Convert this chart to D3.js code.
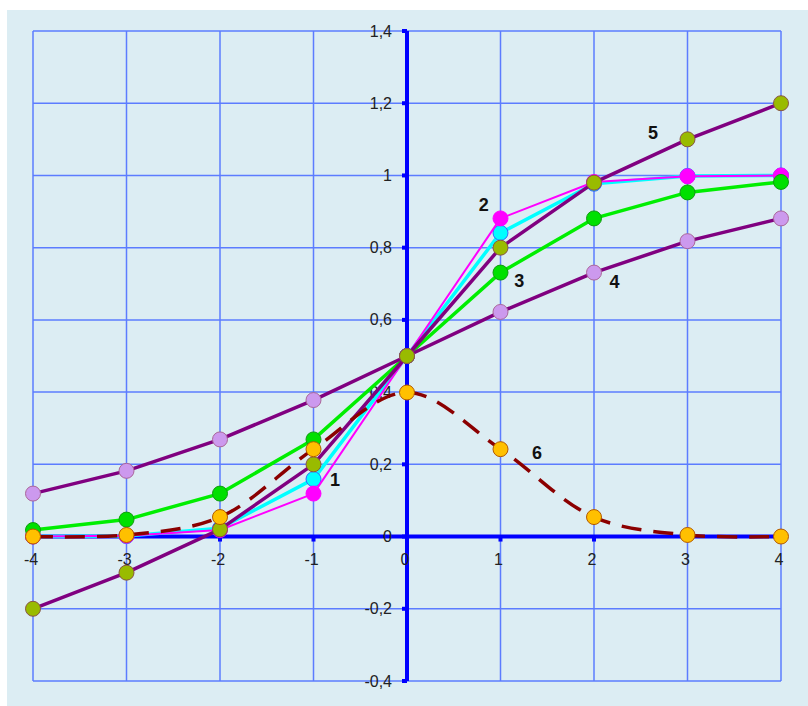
<!DOCTYPE html>
<html><head><meta charset="utf-8">
<script src="https://cdn.jsdelivr.net/npm/d3@7"></script>
<style>html,body{margin:0;padding:0;background:#fff;}</style>
</head><body><svg id="c" width="808" height="706"></svg>
<script>
const xs = [-4,-3,-2,-1,0,1,2,3,4];
const s1 = [0.00003,0.0013,0.023,0.159,0.5,0.841,0.977,0.9987,1.0];
const s2 = [0.0003,0.0025,0.018,0.119,0.5,0.881,0.982,0.9975,0.9997];
const s3 = [0.018,0.047,0.119,0.269,0.5,0.731,0.881,0.953,0.982];
const s4 = [0.119,0.182,0.269,0.378,0.5,0.622,0.731,0.818,0.881];
const s5 = [-0.2,-0.1,0.02,0.2,0.5,0.8,0.98,1.1,1.2];
const s6 = [0.0001,0.0044,0.054,0.242,0.399,0.242,0.054,0.0044,0.0001];
const xTicks = [-4,-3,-2,-1,0,1,2,3,4];
const yTicks = [-0.4,-0.2,0,0.2,0.4,0.6,0.8,1,1.2,1.4];
const labels = ["1","2","3","4","5","6"];
const labelAt = [[-0.77,0.157],[0.82,0.92],[1.2,0.708],[2.22,0.705],[2.63,1.118],[1.39,0.232]];

const svg = d3.select("#c");
svg.append("rect").attr("x",7).attr("y",10).attr("width",801).attr("height",696).attr("fill","#dcedf3");
const x = d3.scaleLinear().domain([-4,4]).range([33,781]);
const y = d3.scaleLinear().domain([-0.4,1.4]).range([681,31]);

const grid = svg.append("g").attr("stroke","#5c7cff").attr("stroke-width",1.5);
xTicks.forEach(t=>grid.append("line").attr("x1",x(t)).attr("x2",x(t)).attr("y1",y(-0.4)).attr("y2",y(1.4)));
yTicks.forEach(t=>grid.append("line").attr("y1",y(t)).attr("y2",y(t)).attr("x1",x(-4)).attr("x2",x(4)));

// axes
const ax = svg.append("g");
ax.append("line").attr("x1",x(0)).attr("x2",x(0)).attr("y1",y(-0.4)).attr("y2",y(1.4)).attr("stroke","#0000ff").attr("stroke-width",4);
ax.append("line").attr("x1",x(-4)).attr("x2",x(4)).attr("y1",y(0)).attr("y2",y(0)).attr("stroke","#0000ff").attr("stroke-width",4);
const fmt = v => d3.format("~g")(+v.toFixed(2)).replace(".",",").replace("−","-");
yTicks.forEach(t=>{
  ax.append("rect").attr("x",x(0)-5).attr("y",y(t)-2).attr("width",5).attr("height",4).attr("fill","#0000ff");
  ax.append("text").attr("x",x(0)-15).attr("y",y(t)).attr("dy","0.35em").attr("text-anchor","end")
    .attr("font-family","Liberation Sans, Arial, sans-serif").attr("font-size",16).attr("fill","#222").text(fmt(t));
});
xTicks.forEach(t=>{
  ax.append("rect").attr("x",x(t)-2).attr("y",y(0)).attr("width",4).attr("height",5).attr("fill","#0000ff");
  ax.append("text").attr("x",x(t)-2).attr("y",y(0)+28).attr("text-anchor","middle")
    .attr("font-family","Liberation Sans, Arial, sans-serif").attr("font-size",16).attr("fill","#222").text(fmt(t));
});

const series = [
  {v:s1, line:"#00ffff", w:3.5, fill:"#00ffff", stroke:"#3366ff"},
  {v:s2, line:"#ff00ff", w:2, fill:"#ff00ff", stroke:"#ff00ff"},
  {v:s3, line:"#00ee00", w:3.5, fill:"#00e000", stroke:"#119911"},
  {v:s4, line:"#800080", w:3.5, fill:"#cc99ee", stroke:"#aa6699"},
  {v:s5, line:"#800080", w:3.5, fill:"#99bb00", stroke:"#885544"},
  {v:s6, line:"#8b0000", w:3.5, fill:"#ffc000", stroke:"#b35900", dash:"20,12", curve:d3.curveCatmullRom}
];
series.forEach(s=>{
  const pts = xs.map((xv,i)=>[xv,s.v[i]]);
  const ln = d3.line().x(d=>x(d[0])).y(d=>y(d[1])).curve(s.curve||d3.curveLinear);
  const p = svg.append("path").attr("d",ln(pts)).attr("fill","none").attr("stroke",s.line).attr("stroke-width",s.w).attr("stroke-linejoin","round");
  if(s.dash) p.attr("stroke-dasharray",s.dash);
  svg.append("g").selectAll("circle").data(pts).join("circle")
    .attr("cx",d=>x(d[0])).attr("cy",d=>y(d[1])).attr("r",7.5)
    .attr("fill",s.fill).attr("stroke",s.stroke).attr("stroke-width",1);
});
labels.forEach((l,i)=>{
  svg.append("text").attr("x",x(labelAt[i][0])).attr("y",y(labelAt[i][1])).attr("dy","0.35em").attr("text-anchor","middle")
    .attr("font-family","Liberation Sans, Arial, sans-serif").attr("font-weight","bold").attr("font-size",18).attr("fill","#111").text(l);
});
</script></body></html>
